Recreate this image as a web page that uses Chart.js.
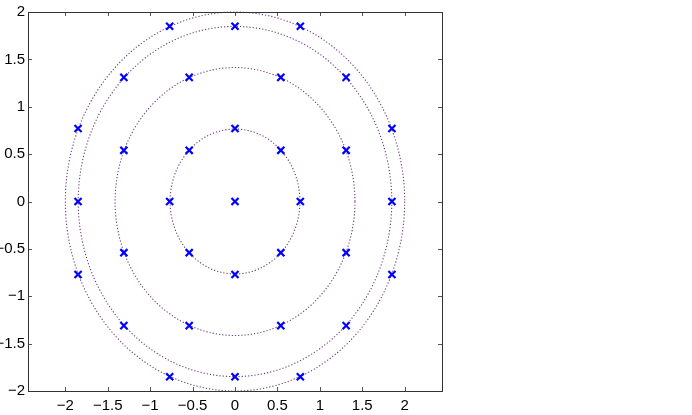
<!DOCTYPE html>
<html>
<head>
<meta charset="utf-8">
<script src="https://cdn.jsdelivr.net/npm/chart.js@4"></script>
<style>
  html, body { margin: 0; padding: 0; background: #fff; }
  #wrap { width: 692px; height: 415px; }
</style>
</head>
<body>
<div id="wrap"><canvas id="c" width="692" height="415"></canvas></div>
<script>
// Constellation points
const pointX = [0.00,
  0.77, 0.54, 0.00, -0.54, -0.77, -0.54, 0.00, 0.54,
  1.31, 0.54, -0.54, -1.31, -1.31, -0.54, 0.54, 1.31,
  1.85, 1.31, 0.00, -1.31, -1.85, -1.31, 0.00, 1.31,
  1.85, 0.77, -0.77, -1.85, -1.85, -0.77, 0.77, 1.85];
const pointY = [0.00,
  0.00, 0.54, 0.77, 0.54, 0.00, -0.54, -0.77, -0.54,
  0.54, 1.31, 1.31, 0.54, -0.54, -1.31, -1.31, -0.54,
  0.00, 1.31, 1.85, 1.31, 0.00, -1.31, -1.85, -1.31,
  0.77, 1.85, 1.85, 0.77, -0.77, -1.85, -1.85, -0.77];
// Dotted ring radii
const ringRadii = [0.765, 1.414, 1.848, 2.0];
// Axis ticks
const xTicks = [-2, -1.5, -1, -0.5, 0, 0.5, 1, 1.5, 2];
const yTicks = [-2, -1.5, -1, -0.5, 0, 0.5, 1, 1.5, 2];
const xRange = [-2.44, 2.44];
const yRange = [-2, 2];

const fmt = v => (v < 0 ? '\u2212' + String(Math.abs(v)) : String(v));

const ringsPlugin = {
  id: 'rings',
  beforeDatasetsDraw(chart) {
    const ctx = chart.ctx, xs = chart.scales.x, ys = chart.scales.y;
    ctx.save();
    ctx.strokeStyle = 'rgb(110,60,120)';
    ctx.lineWidth = 1.1;
    ctx.setLineDash([1.2, 2]);
    const cx = xs.getPixelForValue(0), cy = ys.getPixelForValue(0);
    ringRadii.forEach(r => {
      const rx = Math.abs(xs.getPixelForValue(r) - cx);
      const ry = Math.abs(ys.getPixelForValue(r) - cy);
      ctx.beginPath();
      ctx.ellipse(cx, cy, rx, ry, 0, 0, Math.PI * 2);
      ctx.stroke();
    });
    ctx.restore();
  }
};

const framePlugin = {
  id: 'frame',
  afterDraw(chart) {
    const ctx = chart.ctx, a = chart.chartArea;
    const xs = chart.scales.x, ys = chart.scales.y;
    ctx.save();
    ctx.strokeStyle = '#555';
    ctx.lineWidth = 1;
    const tl = 4;
    ctx.beginPath();
    xTicks.forEach(v => {
      const p = Math.round(xs.getPixelForValue(v)) + 0.5;
      ctx.moveTo(p, a.bottom); ctx.lineTo(p, a.bottom - tl);
      ctx.moveTo(p, a.top); ctx.lineTo(p, a.top + tl);
    });
    yTicks.forEach(v => {
      const p = Math.round(ys.getPixelForValue(v)) + 0.5;
      ctx.moveTo(a.left, p); ctx.lineTo(a.left + tl, p);
      ctx.moveTo(a.right, p); ctx.lineTo(a.right - tl, p);
    });
    ctx.stroke();
    ctx.strokeStyle = '#333';
    ctx.strokeRect(Math.round(a.left) + 0.5, Math.round(a.top) + 0.5,
                   Math.round(a.right - a.left), Math.round(a.bottom - a.top));
    ctx.restore();
  }
};

const font = { family: '"Liberation Sans", Arial, sans-serif', size: 15 };

new Chart(document.getElementById('c'), {
  type: 'scatter',
  data: {
    datasets: [{
      data: pointX.map((x, i) => ({ x: x, y: pointY[i] })),
      pointStyle: 'crossRot',
      pointRadius: 5,
      pointBorderWidth: 2.2,
      borderColor: '#0000ff',
      backgroundColor: '#0000ff',
      pointHoverRadius: 5
    }]
  },
  options: {
    responsive: false,
    animation: false,
    events: [],
    layout: { padding: { left: 0, top: 10, right: 250, bottom: 0 } },
    plugins: { legend: { display: false }, tooltip: { enabled: false } },
    scales: {
      x: {
        type: 'linear', min: xRange[0], max: xRange[1],
        grid: { display: false, drawTicks: false },
        border: { display: false },
        ticks: { font: font, color: '#000', padding: 6, callback: v => fmt(v) },
        afterBuildTicks: s => { s.ticks = xTicks.map(v => ({ value: v })); },
        afterFit: s => { s.height = 24; }
      },
      y: {
        type: 'linear', min: yRange[0], max: yRange[1],
        grid: { display: false, drawTicks: false },
        border: { display: false },
        ticks: { font: font, color: '#000', padding: 3, callback: v => fmt(v) },
        afterBuildTicks: s => { s.ticks = yTicks.map(v => ({ value: v })); },
        afterFit: s => { s.width = 28; }
      }
    }
  },
  plugins: [ringsPlugin, framePlugin]
});
</script>
</body>
</html>
